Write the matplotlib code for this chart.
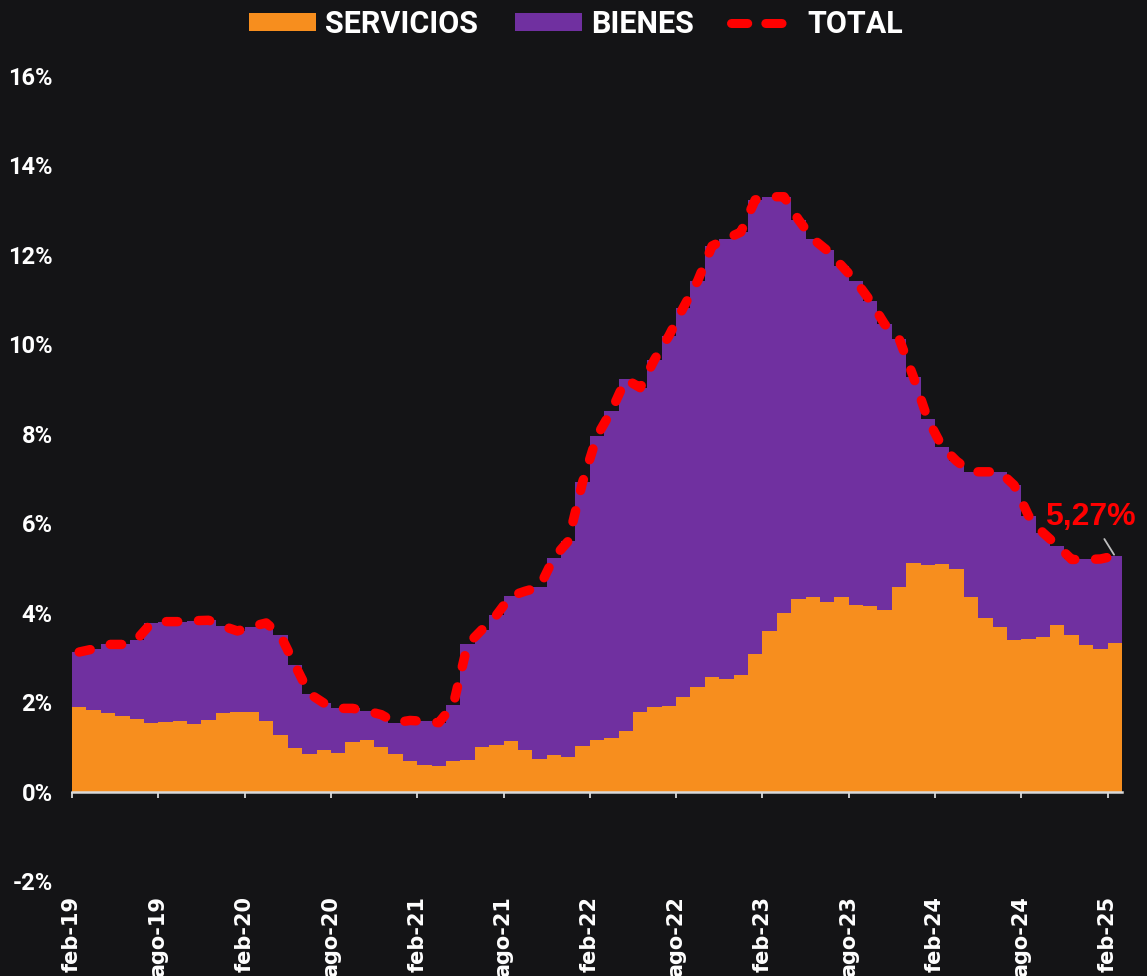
import matplotlib
matplotlib.use("Agg")
import matplotlib.pyplot as plt
from matplotlib.lines import Line2D
import numpy as np

# ---------------- data ----------------
months = ["feb-19", "ago-19", "feb-20", "ago-20", "feb-21", "ago-21", "feb-22",
          "ago-22", "feb-23", "ago-23", "feb-24", "ago-24", "feb-25"]

servicios = [1.90, 1.83, 1.75, 1.68, 1.62, 1.53, 1.55, 1.57, 1.50, 1.60,
             1.75, 1.77, 1.77, 1.57, 1.26, 0.97, 0.83, 0.93, 0.87, 1.10,
             1.16, 0.99, 0.85, 0.68, 0.59, 0.57, 0.68, 0.70, 0.99, 1.04,
             1.14, 0.92, 0.72, 0.81, 0.78, 1.02, 1.16, 1.19, 1.36, 1.77,
             1.88, 1.92, 2.11, 2.33, 2.56, 2.51, 2.60, 3.07, 3.60, 4.00,
             4.31, 4.36, 4.24, 4.34, 4.18, 4.16, 4.06, 4.57, 5.10, 5.06,
             5.08, 4.98, 4.36, 3.89, 3.67, 3.38, 3.41, 3.45, 3.73, 3.49,
             3.27, 3.18, 3.33]

bienes = [1.22, 1.36, 1.54, 1.61, 1.78, 2.23, 2.25, 2.23, 2.32, 2.23,
          1.95, 1.82, 1.92, 2.20, 2.23, 1.86, 1.36, 1.05, 0.99, 0.76,
          0.64, 0.73, 0.69, 0.91, 0.98, 0.97, 1.25, 2.59, 2.63, 2.90,
          3.23, 3.56, 3.85, 4.42, 4.82, 5.90, 6.79, 7.32, 7.86, 7.26,
          7.78, 8.27, 8.71, 9.09, 9.64, 9.85, 9.91, 10.16, 9.70, 9.30,
          8.48, 8.00, 7.86, 7.42, 7.23, 6.81, 6.39, 5.56, 4.17, 3.26,
          2.63, 2.41, 2.79, 3.26, 3.48, 3.47, 2.76, 2.34, 1.77, 1.70,
          1.92, 2.02, 1.94]

total = [3.12, 3.19, 3.29, 3.29, 3.40, 3.76, 3.80, 3.80, 3.82, 3.83,
         3.70, 3.59, 3.69, 3.77, 3.49, 2.83, 2.19, 1.98, 1.86, 1.86,
         1.80, 1.72, 1.54, 1.59, 1.57, 1.54, 1.93, 3.29, 3.62, 3.94,
         4.37, 4.48, 4.57, 5.23, 5.60, 6.92, 7.95, 8.51, 9.22, 9.03,
         9.66, 10.19, 10.82, 11.42, 12.20, 12.36, 12.51, 13.23, 13.30, 13.30,
         12.79, 12.36, 12.10, 11.76, 11.41, 10.97, 10.45, 10.13, 9.27, 8.32,
         7.71, 7.39, 7.15, 7.15, 7.15, 6.85, 6.17, 5.79, 5.50, 5.19,
         5.19, 5.20, 5.27]

last_label = "5,27%"
y_ticks = [-2, 0, 2, 4, 6, 8, 10, 12, 14, 16]

# ---------------- style ----------------
BG = "#141416"
ORANGE = "#F78E1E"
PURPLE = "#7030A0"
RED = "#FF0000"
NARROW = ["Roboto", "DejaVu Sans"]

fig = plt.figure(figsize=(11.47, 9.76), dpi=100, facecolor=BG)
ax = fig.add_axes([72 / 1147, 1 - 881 / 976, 1050 / 1147, (881 - 76) / 976])
ax.set_facecolor(BG)

x = np.arange(len(total))
h_serv = ax.bar(x, servicios, width=1.0, color=ORANGE, linewidth=0,
                antialiased=False, label="SERVICIOS", zorder=2)
h_bien = ax.bar(x, bienes, width=1.0, bottom=servicios, color=PURPLE,
                linewidth=0, antialiased=False, label="BIENES", zorder=2)
ax.plot(x, total, color=RED, linewidth=6.8, dashes=(1.2, 2.2),
        dash_capstyle="round", solid_capstyle="round", label="TOTAL", zorder=3)
h_tot = Line2D([], [], color=RED, linewidth=6.5, dashes=(1.8, 2.0),
               dash_capstyle="round")

ymin, ymax = -2, 16
ax.set_ylim(ymin, ymax)
ax.set_xlim(-0.5, len(total) - 0.5)

# y axis
ax.set_yticks(y_ticks)
ax.set_yticklabels([f"{v}%" for v in y_ticks], family=NARROW, fontsize=17,
                   fontweight="bold", color="white")
ax.tick_params(axis="y", length=0, pad=14)

# x axis: line + tick marks at zero, labels at the bottom
tick_pos = [i - 0.5 for i in range(0, len(total), 6)]
for s in ["left", "right", "top"]:
    ax.spines[s].set_visible(False)
ax.spines["bottom"].set_position(("data", 0))
ax.spines["bottom"].set_color("#d9d9d9")
ax.spines["bottom"].set_linewidth(1.8)
ax.spines["bottom"].set_zorder(4)
ax.set_xticks(tick_pos)
ax.set_xticklabels([])
ax.tick_params(axis="x", direction="out", length=4, width=1.3, color="#d9d9d9")

sec = ax.secondary_xaxis(0.0)
sec.set_xticks(tick_pos)
sec.set_xticklabels(months, rotation=90, fontsize=15, fontweight="bold",
                    color="white", va="top", ha="center")
sec.tick_params(axis="x", length=0, pad=11)
sec.spines["bottom"].set_visible(False)

# annotation for the last value
ax.annotate(last_label, xy=(x[-1], total[-1]), xytext=(70.3, 6.15),
            ha="center", va="center", fontsize=23, fontweight="bold",
            color=RED, family=["Liberation Sans", "DejaVu Sans"],
            arrowprops=dict(arrowstyle="-", color="#bfbfbf", lw=1.3,
                            shrinkA=4, shrinkB=1), zorder=5)

# legend
leg = fig.legend(handles=[h_serv, h_bien, h_tot],
                 labels=["SERVICIOS", "BIENES", "TOTAL"],
                 loc="center", bbox_to_anchor=(0.502, 1 - 24 / 976), ncol=3,
                 frameon=False, handlelength=2.2, handleheight=0.5,
                 columnspacing=1.2, handletextpad=0.3,
                 prop={"family": NARROW, "size": 22, "weight": "bold"})
for t in leg.get_texts():
    t.set_color("white")
leg.legend_handles[0].set_antialiased(True)
leg.legend_handles[1].set_antialiased(True)

fig.savefig("out.png", dpi=100, facecolor=BG)
